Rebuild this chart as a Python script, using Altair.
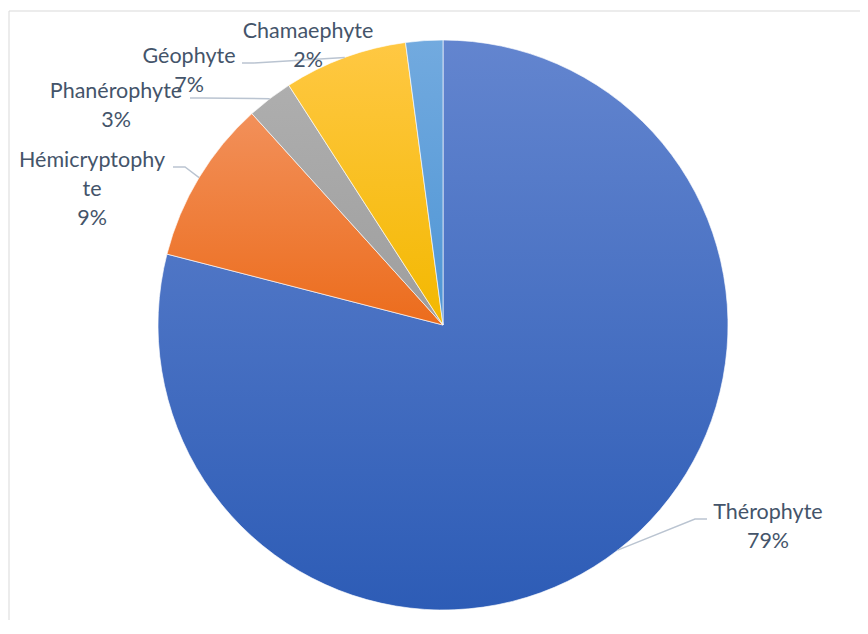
import math
import textwrap
import altair as alt
import pandas as pd

# ---- data ----
categories = ["Thérophyte", "Hémicryptophyte", "Phanérophyte", "Géophyte", "Chamaephyte"]
values = [79.0, 9.3, 2.6, 7.0, 2.1]

# ---- styles ----
fill_top = {"Thérophyte": "#6385CF", "Hémicryptophyte": "#F2905A", "Phanérophyte": "#AEAEAE",
            "Géophyte": "#FFC843", "Chamaephyte": "#72AADF"}
fill_bottom = {"Thérophyte": "#2D5CB6", "Hémicryptophyte": "#EC6C1C", "Phanérophyte": "#9E9E9E",
               "Géophyte": "#F3B800", "Chamaephyte": "#4E95D5"}
TEXT_COLOR = "#44546A"
LEADER_COLOR = "#BAC4D1"

# ---- layout (page pixels) ----
MARGIN = 8
W, H = 852, 612
CX, CY, R = 443 - MARGIN, 325 - MARGIN, 285
label_layout = {
    "Thérophyte": dict(x=768, y=519, attach=707),
    "Hémicryptophyte": dict(x=92, y=167, attach=173),
    "Phanérophyte": dict(x=116, y=98, attach=190),
    "Géophyte": dict(x=189, y=63, attach=242),
    "Chamaephyte": dict(x=308, y=38, attach=None),
}
ELBOW = 12

total = sum(values)
rows = []
cum = 0.0
for c, v in zip(categories, values):
    t0 = 2 * math.pi * cum / total
    cum += v
    t1 = 2 * math.pi * cum / total
    pct = round(100 * v / total)
    lines = textwrap.wrap(c, 13, break_long_words=True) + [f"{pct}%"]
    lay = label_layout[c]
    rows.append(dict(category=c, value=v, t0=t0, t1=t1, mid=(t0 + t1) / 2,
                     label="\n".join(lines), lx=lay["x"] - MARGIN, ly=lay["y"] - MARGIN))
df = pd.DataFrame(rows)

leader_rows = []
for r in rows:
    lay = label_layout[r["category"]]
    if lay["attach"] is None:
        continue
    ax, ay = lay["attach"] - MARGIN, lay["y"] - MARGIN
    ex = ax + (ELBOW if ax < CX else -ELBOW)
    px = CX + R * math.sin(r["mid"])
    py = CY - R * math.cos(r["mid"])
    for k, (x, y) in enumerate([(ax, ay), (ex, ay), (px, py)]):
        leader_rows.append(dict(category=r["category"], k=k, px=x, py=y))
leaders_df = pd.DataFrame(leader_rows)

one = pd.DataFrame({"a": [0]})
frame_top = alt.Chart(one).mark_rule(color="#D9D9D9", strokeWidth=1).encode(
    x=alt.value(1), x2=alt.value(W + 40), y=alt.value(3))
frame_left = alt.Chart(one).mark_rule(color="#D9D9D9", strokeWidth=1).encode(
    x=alt.value(1), y=alt.value(3), y2=alt.value(H + 40))

arcs = []
for c in categories:
    grad = alt.LinearGradient(
        gradient="linear",
        stops=[alt.GradientStop(color=fill_top[c], offset=0),
               alt.GradientStop(color=fill_bottom[c], offset=1)],
        x1=0, y1=0, x2=0, y2=1)
    arcs.append(
        alt.Chart(df).transform_filter(alt.datum.category == c)
        .mark_arc(fill=grad, stroke="white", strokeWidth=0.8, strokeOpacity=0.8, radius=R)
        .encode(theta=alt.Theta("t0:Q", scale=None), theta2="t1:Q",
                x=alt.value(CX), y=alt.value(CY))
    )

leaders = alt.Chart(leaders_df).mark_line(color=LEADER_COLOR, strokeWidth=1.4).encode(
    x=alt.X("px:Q", scale=None, axis=None),
    y=alt.Y("py:Q", scale=None, axis=None),
    detail="category:N",
    order="k:O",
)

labels = alt.Chart(df).mark_text(
    font="Lato", fontSize=21.5, color=TEXT_COLOR, align="center",
    baseline="alphabetic", lineBreak="\n", lineHeight=29,
).encode(
    x=alt.X("lx:Q", scale=None, axis=None),
    y=alt.Y("ly:Q", scale=None, axis=None),
    text="label:N",
)

chart = alt.layer(frame_top, frame_left, *arcs, leaders, labels).properties(
    width=W, height=H, padding=0,
    autosize=alt.AutoSizeParams(type="none"),
    background="white",
).configure_view(stroke=None)

chart.save("out.html", embed_options={"renderer": "svg", "actions": False})
